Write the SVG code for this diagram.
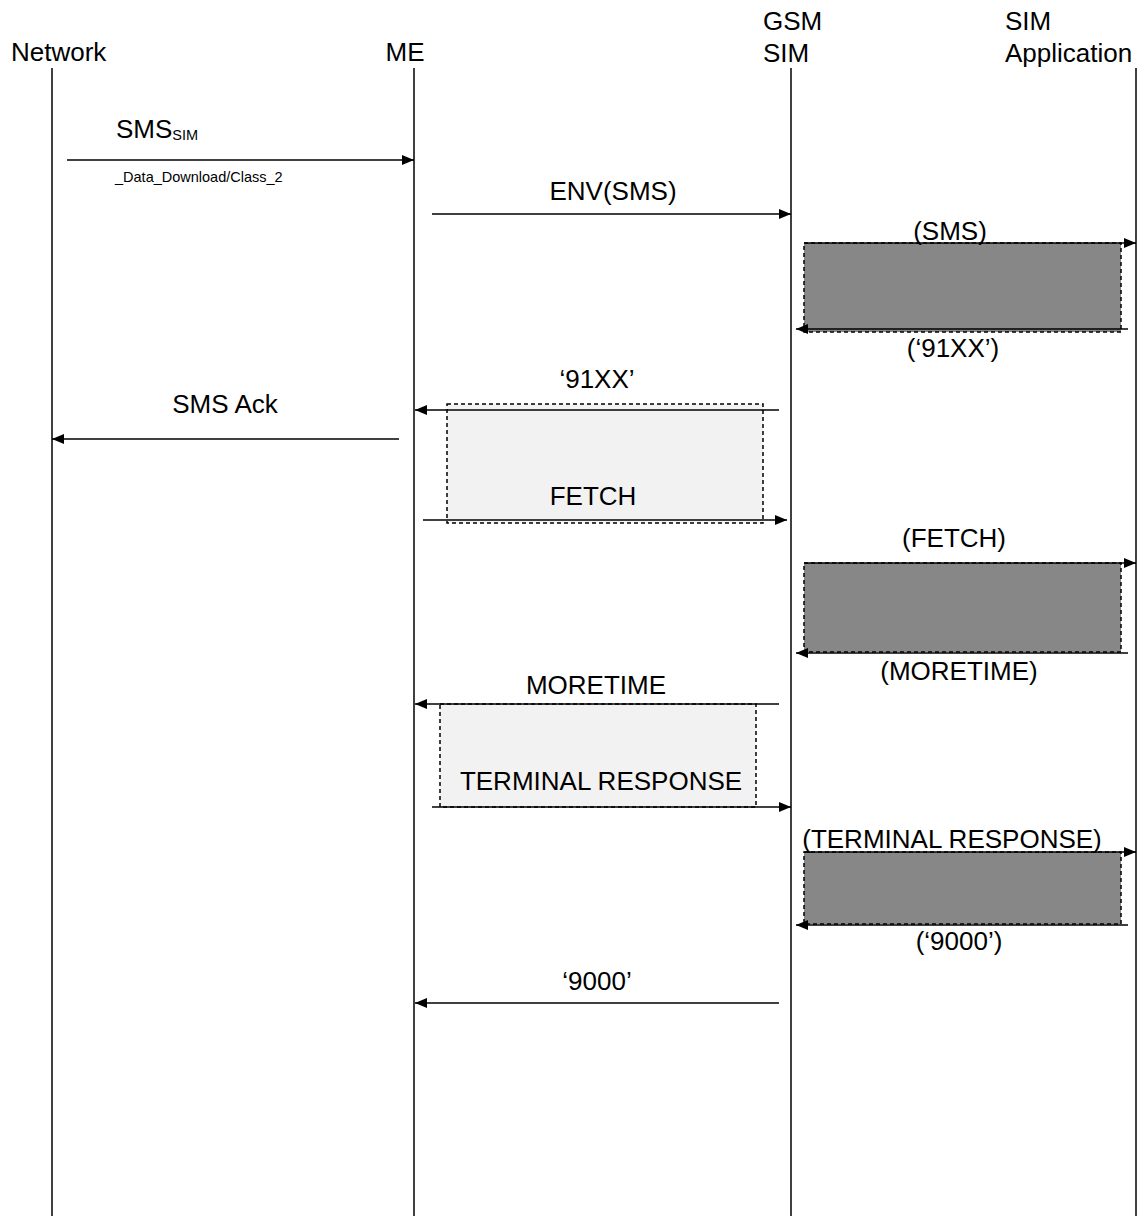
<svg xmlns="http://www.w3.org/2000/svg" width="1141" height="1216" viewBox="0 0 1141 1216">
<defs>
<marker id="ah" viewBox="0 0 12 10" refX="12" refY="5" markerWidth="12" markerHeight="10" markerUnits="userSpaceOnUse" orient="auto">
<path d="M0,0 L12,5 L0,10 z" fill="#000"/>
</marker>
<style>
text{font-family:"Liberation Sans",Arial,sans-serif;font-size:26px;fill:#000}
.life{stroke:#000;stroke-width:1.5}
.msg{stroke:#000;stroke-width:1.5;fill:none;marker-end:url(#ah)}
.dark{fill:#878787;stroke:#000;stroke-width:1.5;stroke-dasharray:4 3}
.light{fill:#f2f2f2;stroke:#000;stroke-width:1.5;stroke-dasharray:4 3}
.c{text-anchor:middle}
.small{font-size:14.5px}
</style>
</defs>
<rect width="1141" height="1216" fill="#fff"/>
<g id="network"><text x="11" y="61">Network</text><line class="life" x1="52" y1="68" x2="52" y2="1216"/></g>
<g id="me"><text x="405" y="61" class="c">ME</text><line class="life" x1="414" y1="68" x2="414" y2="1216"/></g>
<g id="gsmsim"><text x="763" y="30">GSM</text><text x="763" y="62">SIM</text><line class="life" x1="791" y1="68" x2="791" y2="1216"/></g>
<g id="simapp"><text x="1005" y="30">SIM</text><text x="1005" y="62">Application</text><line class="life" x1="1136" y1="68" x2="1136" y2="1216"/></g>
<g id="box1"><rect class="dark" x="804" y="243" width="317" height="89"/></g>
<g id="box2"><rect class="light" x="447" y="404" width="316" height="119"/></g>
<g id="box3"><rect class="dark" x="804" y="563" width="317" height="89"/></g>
<g id="box4"><rect class="light" x="440" y="704" width="316" height="103"/></g>
<g id="box5"><rect class="dark" x="804" y="852" width="317" height="72"/></g>
<g id="connectors">
<line class="msg" x1="67" y1="160" x2="414" y2="160"/>
<line class="msg" x1="432" y1="214" x2="791" y2="214"/>
<line class="msg" x1="804" y1="243" x2="1136" y2="243"/>
<line class="msg" x1="1128" y1="329" x2="796" y2="329"/>
<line class="msg" x1="779" y1="410" x2="415" y2="410"/>
<line class="msg" x1="399" y1="439" x2="52" y2="439"/>
<line class="msg" x1="423" y1="520" x2="787" y2="520"/>
<line class="msg" x1="804" y1="563" x2="1136" y2="563"/>
<line class="msg" x1="1128" y1="653" x2="796" y2="653"/>
<line class="msg" x1="779" y1="704" x2="415" y2="704"/>
<line class="msg" x1="432" y1="807" x2="791" y2="807"/>
<line class="msg" x1="804" y1="852" x2="1136" y2="852"/>
<line class="msg" x1="1128" y1="925" x2="796" y2="925"/>
<line class="msg" x1="779" y1="1003" x2="415" y2="1003"/>
</g>
<g id="labels">
<text x="116" y="138">SMS<tspan class="small" dy="2">SIM</tspan></text>
<text x="115" y="182" class="small">_Data_Download/Class_2</text>
<text x="613" y="200" class="c">ENV(SMS)</text>
<text x="950" y="240" class="c">(SMS)</text>
<text x="953" y="357" class="c">(‘91XX’)</text>
<text x="597" y="388" class="c">‘91XX’</text>
<text x="225" y="413" class="c">SMS Ack</text>
<text x="593" y="505" class="c">FETCH</text>
<text x="954" y="547" class="c">(FETCH)</text>
<text x="959" y="680" class="c">(MORETIME)</text>
<text x="596" y="694" class="c">MORETIME</text>
<text x="601" y="790" class="c">TERMINAL RESPONSE</text>
<text x="952" y="848" class="c">(TERMINAL RESPONSE)</text>
<text x="959" y="950" class="c">(‘9000’)</text>
<text x="597" y="990" class="c">‘9000’</text>
</g>
</svg>
